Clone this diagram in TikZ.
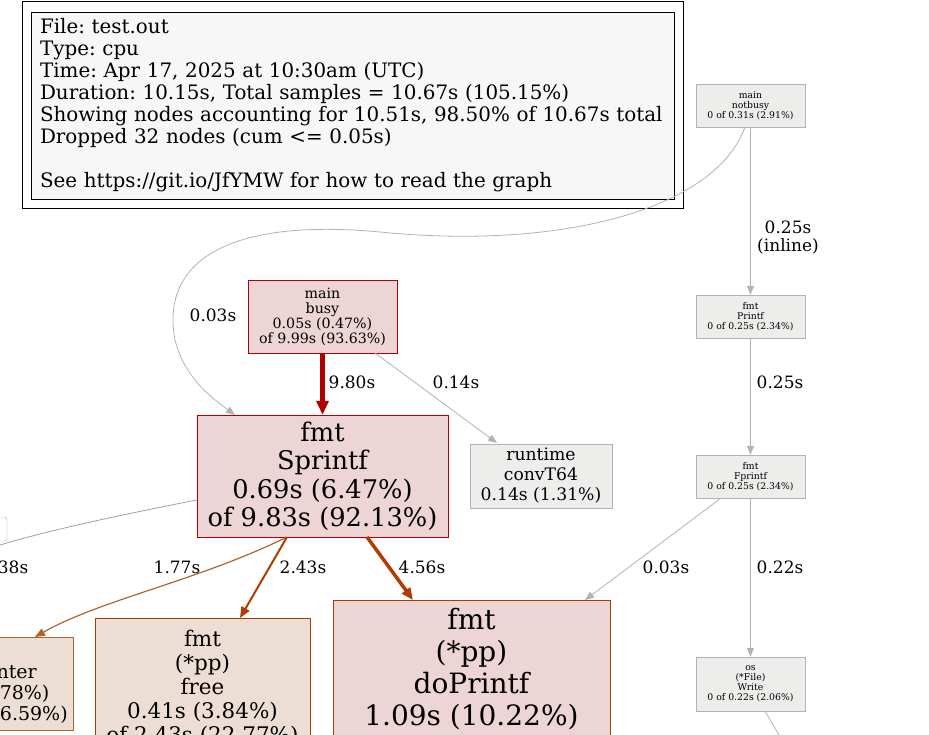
\documentclass[tikz,border=0pt]{standalone}
\usepackage{fontspec}
\setmainfont{DejaVu Serif}
\usetikzlibrary{arrows.meta}
\definecolor{gb}{HTML}{B2B2B2}
\definecolor{gf}{HTML}{EDEDEC}
\definecolor{rd}{HTML}{B20000}
\definecolor{rf}{HTML}{EDD5D5}
\definecolor{ob}{HTML}{B23C00}
\definecolor{of}{HTML}{EDDED5}
\definecolor{lb}{HTML}{B2652B}
\tikzset{
 box/.style={draw, rectangle, inner sep=0pt, align=center},
 gnode/.style={box, draw=gb, fill=gf, font=\fontsize{9.3}{10}\selectfont},
 e/.style={-{Triangle[length=9pt,width=7pt]}, draw=gb, line width=0.8pt},
 lab/.style={font=\fontsize{17}{18}\selectfont, align=center}
}
\begin{document}
\frenchspacing
\begin{tikzpicture}[x=1pt,y=-1pt]
\useasboundingbox (0,0) rectangle (929,735);
\begin{scope}
\clip (0,0) rectangle (929,735);
% legend
\node[box, draw=black, line width=1pt, minimum width=661, minimum height=207] (leg) at (352.5,105.5) {};
\node[box, draw=black, fill=black!3, minimum width=643, minimum height=187, align=left, font=\fontsize{19.9}{22}\selectfont, text width=625] (legi) at (352.5,105.5) {File: test.out\\Type: cpu\\Time: Apr 17, 2025 at 10:30am (UTC)\\Duration: 10.15s, Total samples = 10.67s (105.15\%)\\Showing nodes accounting for 10.51s, 98.50\% of 10.67s total\\Dropped 32 nodes (cum <= 0.05s)\\\mbox{}\\See https://git.io/JfYMW for how to read the graph};
% grey small nodes
\node[gnode, minimum width=109, minimum height=43] (nb) at (750.5,105.5) {main\\notbusy\\0 of 0.31s (2.91\%)};
\node[gnode, minimum width=109, minimum height=43] (pf) at (750.5,316.5) {fmt\\Printf\\0 of 0.25s (2.34\%)};
\node[gnode, minimum width=109, minimum height=43] (fpf) at (750.5,476.5) {fmt\\Fprintf\\0 of 0.25s (2.34\%)};
\node[gnode, minimum width=109, minimum height=54] (osw) at (750.5,684) {os\\(*File)\\Write\\0 of 0.22s (2.06\%)};
\node[box, draw=gb, fill=gf, minimum width=142, minimum height=64, font=\fontsize{17.2}{20}\selectfont] (cv) at (541,476) {runtime\\convT64\\0.14s (1.31\%)};
% red nodes
\node[box, draw=rd, fill=rf, minimum width=149, minimum height=73, font=\fontsize{14.2}{15}\selectfont] (busy) at (322.5,316.5) {main\\busy\\0.05s (0.47\%)\\of 9.99s (93.63\%)};
\node[box, draw=rd, fill=rf, minimum width=251, minimum height=122, font=\fontsize{25.7}{28.5}\selectfont] (spf) at (322.5,476) {fmt\\Sprintf\\0.69s (6.47\%)\\of 9.83s (92.13\%)};
% bottom nodes
\node[box, draw=lb, fill=of, minimum width=180, minimum height=93, font=\fontsize{19}{21}\selectfont, anchor=north east] (np) at (73,637) {fmt\\newPrinter\\0.19s (1.78\%)\\of 1.77s (16.59\%)};
\node[box, draw=ob, fill=of, minimum width=215, minimum height=140, font=\fontsize{21.5}{24}\selectfont, anchor=north] (fr) at (202.5,618) {fmt\\(*pp)\\free\\0.41s (3.84\%)\\of 2.43s (22.77\%)};
\node[box, draw=ob, fill=rf, minimum width=277, minimum height=170, font=\fontsize{28}{32}\selectfont, anchor=north] (dp) at (471.5,600) {fmt\\(*pp)\\doPrintf\\1.09s (10.22\%)\\of 4.56s (42.74\%)};
\node[box, draw=gb, fill=white, rounded corners=3pt, minimum width=60, minimum height=24] (lft) at (-23,529) {};
\coordinate (lout) at (0,545);
\coordinate (wout) at (782,740);
% edges
\draw[e] (nb.south) -- (pf.north);
\node[lab] at (788,238) {0.25s\\(inline)};
\draw[e] (pf) -- (fpf);
\node[lab] at (780,382) {0.25s};
\draw[e] (fpf) -- (osw);
\node[lab] at (780,567) {0.22s};
\draw[e] (fpf.south west)++(25,0) -- (585,600);
\node[lab] at (666,567) {0.03s};
\draw[e] (745,127) .. controls (715,210) and (560,250) .. (380,232) .. controls (230,218) and (160,260) .. (175,340) .. controls (185,380) and (215,400) .. (235,415);
\node[lab] at (213,315) {0.03s};
\draw[-{Triangle[length=14pt,width=12pt]}, draw=rd, line width=5pt] (busy) -- (spf);
\node[lab] at (352,382) {9.80s};
\draw[e] (375,353) -- (497,443);
\node[lab] at (456,382) {0.14s};
\draw[-{Triangle[length=10pt,width=8pt]}, draw=lb, line width=1.2pt] (287,537) .. controls (200,580) and (100,600) .. (35,637);
\node[lab] at (177,567) {1.77s};
\draw[-{Triangle[length=11pt,width=9pt]}, draw=ob, line width=2pt] (287,537) -- (240,618);
\node[lab] at (303,567) {2.43s};
\draw[-{Triangle[length=12pt,width=10pt]}, draw=ob, line width=3.5pt] (367,537) -- (413,600);
\node[lab] at (422,567) {4.56s};
\draw[draw=gb!70!lb, line width=0.8pt] (spf.west |- 0,500) .. controls (120,515) and (50,530) .. (lout);
\node[lab] at (5,567) {0.38s};
\draw[draw=gb, line width=0.8pt] (765,711) -- (wout);
\end{scope}
\end{tikzpicture}
\end{document}
